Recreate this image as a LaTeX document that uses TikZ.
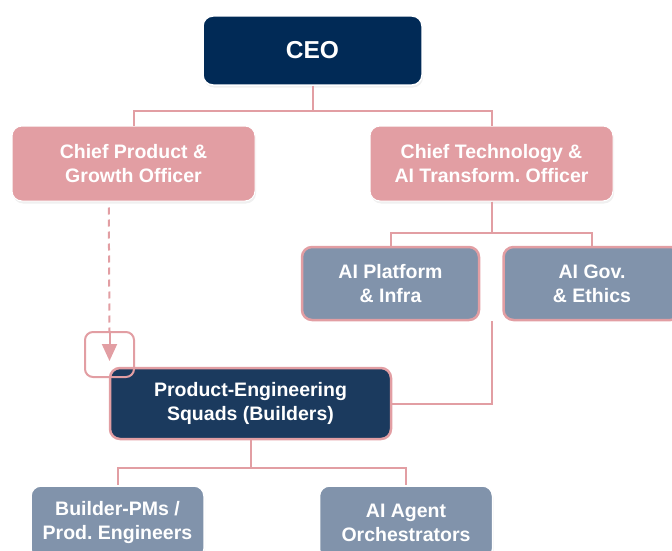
\documentclass[tikz,border=0pt]{standalone}
\usepackage{fontspec}
\setmainfont{Liberation Sans}
\usetikzlibrary{arrows.meta,shadows}
\definecolor{navy}{RGB}{1,42,86}
\definecolor{squadblue}{RGB}{27,58,94}
\definecolor{rose}{RGB}{226,158,163}
\definecolor{slate}{RGB}{129,147,171}
\tikzset{
    box/.style={rectangle,rounded corners=10pt,inner sep=0pt,align=center,text=white,
        font=\bfseries\fontsize{19.5}{24}\selectfont},
    shade/.style={drop shadow={opacity=0.12,shadow xshift=1pt,shadow yshift=-2.5pt}},
    ceo/.style={box,shade,fill=navy,draw=white,line width=1.5pt,minimum width=219pt,minimum height=69pt,
        font=\bfseries\fontsize{24.5}{28}\selectfont},
    chief/.style={box,shade,fill=rose,draw=white,line width=1pt,minimum width=243pt,minimum height=75pt},
    unit/.style={box,fill=slate,draw=rose,line width=2.5pt,minimum width=177pt,minimum height=73pt},
    squad/.style={box,fill=squadblue,draw=rose,line width=2.5pt,minimum width=281pt,minimum height=71pt},
    team/.style={box,shade,fill=slate,draw=white,line width=1.5pt,minimum width=173pt,minimum height=73pt},
    marker/.style={rectangle,rounded corners=8pt,draw=rose,line width=2pt,minimum width=49pt,minimum height=45pt},
    link/.style={-,draw=rose,line width=2pt},
    dlink/.style={-,draw=rose,line width=2pt,dash pattern=on 7pt off 5pt},
    handoff/.style={-{Triangle[width=15pt,length=17pt]},draw=rose,fill=rose,line width=2pt},
}
\begin{document}
\begin{tikzpicture}[x=1pt,y=-1pt]
    \useasboundingbox (0,0) rectangle (672,551);
    \clip (0,0) rectangle (672,551);
    % leadership
    \node[ceo] (ceo) at (312.5,50.5) {CEO};
    \node[chief] (cpo) at (133.5,163.5) {Chief Product \&\\Growth Officer};
    \node[chief] (cto) at (491.5,163.5) {Chief Technology \&\\AI Transform.\ Officer};
    % platform units
    \node[unit] (platform) at (390.5,283.5) {AI Platform\\\& Infra};
    \node[unit] (gov) at (592,283.5) {AI Gov.\\\& Ethics};
    % builders
    \node[squad] (squads) at (250.5,403.5) {Product-Engineering\\Squads (Builders)};
    \node[team] (pms) at (117.5,522.5) {Builder-PMs /\\Prod.\ Engineers};
    \node[team] (agents) at (406,522.5) {AI Agent\\Orchestrators};
    \coordinate (techlink) at (cto.south |- platform.south);
    \draw[link] (ceo.south) -- ++(0,25) -| (cpo.north);
    \draw[link] (ceo.south) -- ++(0,25) -| (cto.north);
    \draw[link] (cto.south) -- ++(0,31) -| (platform.north);
    \draw[link] (cto.south) -- ++(0,31) -| (gov.north);
    \draw[link] (techlink) |- (squads.east);
    \draw[link] (squads.south) -- ++(0,28) -| (pms.north);
    \draw[link] (squads.south) -- ++(0,28) -| (agents.north);
    % dotted hand-off into the squads
    \node[marker] (drop) at (109.5,354.5) {};
    \draw[dlink] (cpo.south -| squads.west) ++(0,6) -- (drop.north);
    \draw[handoff] (drop.north) -- ++(0,30);
    \end{tikzpicture}
\end{document}
